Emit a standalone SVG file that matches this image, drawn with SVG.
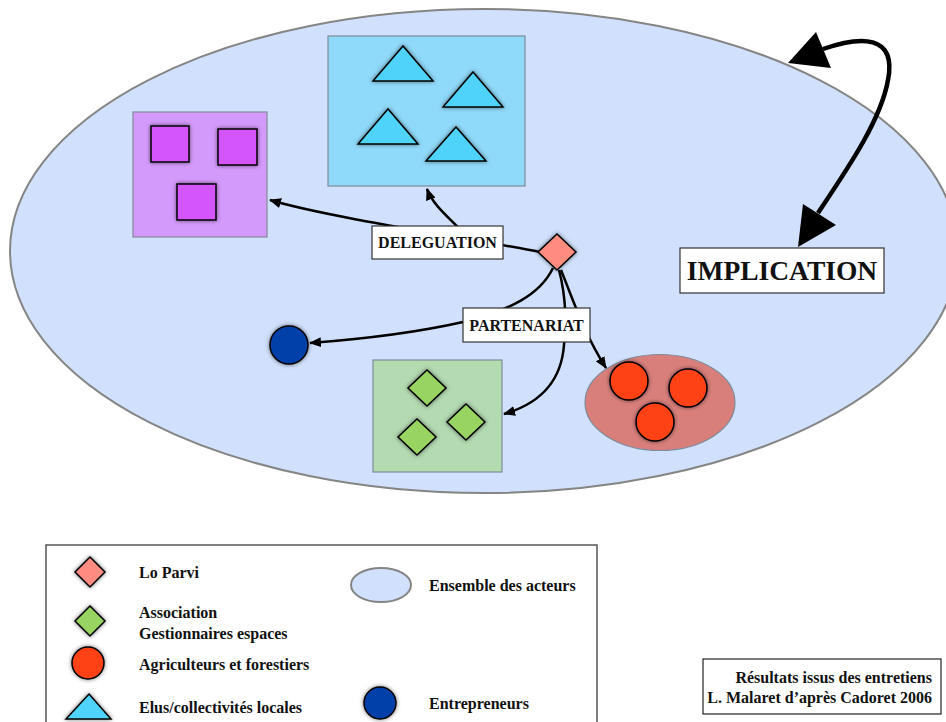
<svg xmlns="http://www.w3.org/2000/svg" width="946" height="722" viewBox="0 0 946 722">
<defs>
<style>
.t{font-family:"Liberation Serif","Times New Roman",serif;font-weight:bold;fill:#111}
.lbl{fill:#fff;stroke:#333;stroke-width:1.2}
.con{fill:none;stroke:#000;stroke-width:2.5}
.sh{stroke:#000;stroke-width:1.5}
.grp{stroke:#7f8a99;stroke-width:1.2}
</style>
<filter id="glow" x="-40%" y="-40%" width="180%" height="180%">
<feDropShadow dx="0" dy="0" stdDeviation="2.2" flood-color="#000" flood-opacity="0.55"/>
</filter>
<marker id="ah" viewBox="0 0 12 10" refX="11" refY="5" markerWidth="12" markerHeight="10" markerUnits="userSpaceOnUse" orient="auto">
<path d="M0,0 L12,5 L0,10 z" fill="#000"/>
</marker>
</defs>
<rect width="946" height="722" fill="#fff"/>

<g id="ensemble">
<ellipse cx="484" cy="251" rx="474" ry="242" fill="#D1E1FD" stroke="#858585" stroke-width="2"/>
</g>

<g id="elus">
<rect x="328" y="36" width="197" height="150" fill="#8FD9FA" class="grp"/>
<g fill="#4FD3FB" class="sh" filter="url(#glow)">
<polygon points="403,46 373,81 433,81"/>
<polygon points="473,72 443,107 503,107"/>
<polygon points="388,109 358,144 418,144"/>
<polygon points="456,127 426,161 486,161"/>
</g>
</g>

<g id="assoc-purple">
<rect x="133" y="112" width="134" height="125" fill="#D49AFB" class="grp"/>
<g fill="#D455FC" class="sh" filter="url(#glow)">
<rect x="151" y="126" width="38" height="36"/>
<rect x="218" y="129" width="39" height="36"/>
<rect x="177" y="184" width="39" height="36"/>
</g>
</g>

<g id="association">
<rect x="373" y="360" width="129" height="112" fill="#B3DAB1" class="grp"/>
<g fill="#98D462" class="sh" filter="url(#glow)">
<polygon points="427,370 446,388 427,406 408,388"/>
<polygon points="466,404 485,422 466,440 447,422"/>
<polygon points="417,419 436,437 417,455 398,437"/>
</g>
</g>

<g id="agriculteurs">
<ellipse cx="660" cy="402.5" rx="75" ry="48" fill="#D97F7B" class="grp"/>
<g fill="#FF4213" class="sh" filter="url(#glow)">
<circle cx="629" cy="381" r="19"/>
<circle cx="688" cy="388" r="19"/>
<circle cx="655" cy="422" r="19"/>
</g>
</g>

<g id="entrepreneurs">
<circle cx="289" cy="345" r="19" fill="#0041A8" class="sh" filter="url(#glow)"/>
</g>

<g id="connectors">
<path class="con" d="M540,252 C480,240 330,218 270,200" marker-end="url(#ah)"/>
<path class="con" d="M470,240 C455,222 434,208 427,189" marker-end="url(#ah)"/>
<path class="con" d="M553,268 C540,295 510,310 463,322 C410,334 350,340 310,343" marker-end="url(#ah)"/>
<path class="con" d="M559,270 C567,300 566,330 564,345 C561,385 535,405 504,414" marker-end="url(#ah)"/>
<path class="con" d="M561,270 C575,305 585,335 606,368" marker-end="url(#ah)"/>
<path d="M823,49 C860,36 897,34 888,80 C881,120 848,168 818,213" fill="none" stroke="#000" stroke-width="4.5"/>
<polygon points="788,63 816,32 831,68" fill="#000"/>
<polygon points="798,247 803,204 836,225" fill="#000"/>
</g>

<g id="delegation">
<rect x="372" y="226" width="131" height="33" class="lbl"/>
<text x="437.5" y="248" class="t" font-size="16" text-anchor="middle">DELEGUATION</text>
</g>

<g id="partenariat">
<rect x="463" y="308" width="127" height="34" class="lbl"/>
<text x="526.5" y="331" class="t" font-size="16" text-anchor="middle">PARTENARIAT</text>
</g>

<g id="lo-parvi">
<polygon points="557,234 576,252 557,270 538,252" fill="#FF8C80" class="sh" stroke-width="1.2" filter="url(#glow)"/>
</g>

<g id="implication">
<rect x="680" y="248" width="204" height="45" class="lbl"/>
<text x="782" y="280" class="t" font-size="27.5" text-anchor="middle">IMPLICATION</text>
</g>

<g id="legend">
<rect x="46" y="545" width="551" height="190" fill="#fff" stroke="#555" stroke-width="1.5"/>
<polygon points="90,557 105,572 90,587 75,572" fill="#FF8C80" class="sh" stroke-width="1.2" filter="url(#glow)"/>
<text x="139" y="578" class="t" font-size="16">Lo Parvi</text>
<ellipse cx="381" cy="585" rx="30" ry="17" fill="#D1E1FD" stroke="#858585" stroke-width="2"/>
<text x="429" y="591" class="t" font-size="16">Ensemble des acteurs</text>
<polygon points="90,606 105,621 90,636 75,621" fill="#98D462" class="sh" stroke-width="1.2" filter="url(#glow)"/>
<text x="139" y="618" class="t" font-size="16">Association</text>
<text x="139" y="639" class="t" font-size="16">Gestionnaires espaces</text>
<circle cx="88" cy="663" r="16" fill="#FF4213" class="sh" stroke-width="1.2" filter="url(#glow)"/>
<text x="139" y="670" class="t" font-size="16">Agriculteurs et forestiers</text>
<polygon points="89,694 111,719 66,719" fill="#4FD3FB" class="sh" stroke-width="1.2" filter="url(#glow)"/>
<text x="139" y="713" class="t" font-size="16">Elus/collectivités locales</text>
<circle cx="380" cy="703" r="16" fill="#0041A8" class="sh" stroke-width="1.2" filter="url(#glow)"/>
<text x="429" y="709" class="t" font-size="16">Entrepreneurs</text>
</g>

<g id="source">
<rect x="703" y="659" width="238" height="55" fill="#fff" stroke="#222" stroke-width="1.2"/>
<text x="932" y="683" class="t" font-size="16" text-anchor="end">Résultats issus des entretiens</text>
<text x="932" y="703" class="t" font-size="16" text-anchor="end">L. Malaret d’après Cadoret 2006</text>
</g>
</svg>
